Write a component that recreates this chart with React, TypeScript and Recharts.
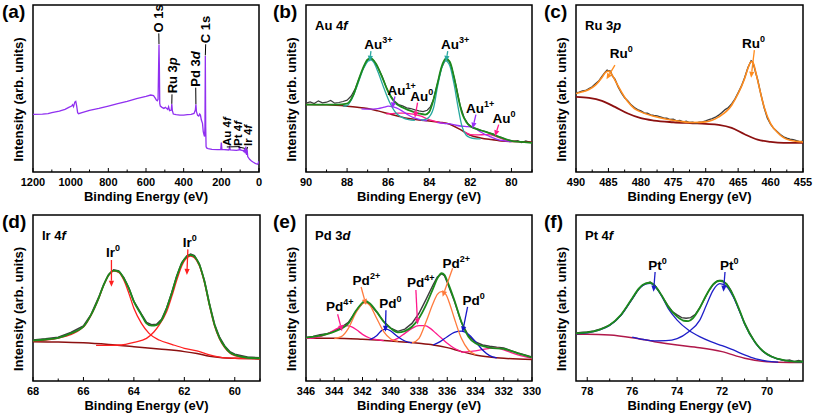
import React from "react";
import { LineChart, Line, XAxis, YAxis, ReferenceArea, ReferenceLine, ReferenceDot } from "recharts";

type Pt = [number, number];

// ---------- (a) survey ----------
const surveyScan: Pt[] = [
  [1200, 34.5], [1150, 34.7], [1120, 34.9], [1100, 35.5], [1060, 36.5], [1030, 37.5], [1010, 38.7],
  [995, 39.5], [990, 40.3], [985, 39.1], [978, 41.9], [973, 42.3], [968, 39.5], [963, 35.5], [958, 34.9],
  [940, 35.5], [900, 36.9], [850, 38.1], [800, 39.5], [750, 40.9], [700, 42.3], [650, 43.9], [600, 45.3],
  [575, 46.1], [560, 45.7], [550, 44.1], [545, 43.1], [540, 42.7], [536, 43.5], [533, 63.1], [531, 76.4],
  [529, 63], [527, 41.1], [524, 39.5], [515, 38.7], [505, 38.1], [497, 38.7], [485, 37.5], [480, 39.1],
  [475, 36.7], [466, 37.1], [463, 40.7], [460, 36.7], [455, 34.7], [440, 34.3], [420, 34.1], [400, 34.1],
  [380, 34.3], [360, 34.5], [345, 35.1], [338, 37.1], [335, 40.5], [332, 36.1], [326, 33.9], [320, 33.5],
  [315, 34.7], [311, 34.1], [306, 31.1], [300, 29.1], [296, 24.2], [292, 22.2], [289, 21.2], [287, 27.1],
  [285, 69.5], [283, 27.1], [281, 15.2], [278, 14.4], [270, 14], [250, 13.6], [220, 13.4], [203, 13.6],
  [200, 17.6], [197, 13.6], [160, 13.2], [156, 14.8], [152, 13.2], [120, 13], [106, 13.2], [103, 15.2],
  [100, 13.2], [85, 12.8], [80, 12.2], [76, 14.2], [72, 11.2], [70, 15.2], [66, 10.2], [63, 13.6],
  [60, 9.2], [50, 7.6], [40, 6.6], [30, 5.8], [20, 5.2], [12, 4.8], [8, 4.6], [4, 5.2], [2, 6.4], [0, 5.6],
];
const surveyTicks = [1200, 1100, 1000, 900, 800, 700, 600, 500, 400, 300, 200, 100, 0];
const surveyMajor = [1200, 1000, 800, 600, 400, 200, 0];
// text start (tx, ty) and the peak its leader points to (px, py)
const surveyPeaks = [
  { main: "O 1s", ital: "", tx: 532, ty: 83, px: 531, py: 76.6 },
  { main: "C 1s", ital: "", tx: 283, ty: 76.5, px: 285, py: 69.8 },
  { main: "Ru 3", ital: "p", tx: 462, ty: 46.5, px: 463, py: 40.8 },
  { main: "Pd 3", ital: "d", tx: 336, ty: 50.5, px: 335, py: 40.6 },
  { main: "Au 4", ital: "f", tx: 171, ty: 15, px: 103, py: 15.2 },
  { main: "Pt 4", ital: "f", tx: 111, ty: 15, px: 76, py: 14.2 },
  { main: "Ir 4", ital: "f", tx: 61, ty: 15, px: 64, py: 13.6 },
];

// ---------- (b) Au 4f ----------
const auRaw: Pt[] = [
  [90, 41.2], [89.8, 42], [89.6, 41], [89.4, 42.6], [89.2, 41.4], [89, 41.8], [88.8, 42.8], [88.6, 41.2],
  [88.4, 41.6], [88.2, 42.2], [88, 43], [87.8, 45.5], [87.6, 50], [87.4, 56.5], [87.2, 62.5], [87, 67],
  [86.85, 68], [86.7, 66.6], [86.5, 62.5], [86.3, 57.5], [86.1, 51], [85.9, 46], [85.7, 42.5], [85.5, 40.4],
  [85.3, 39.6], [85.1, 38.4], [84.9, 38], [84.7, 37.2], [84.5, 36.6], [84.3, 36.2], [84.1, 37], [83.95, 39],
  [83.8, 43.5], [83.6, 53], [83.4, 62.5], [83.2, 67.6], [83.05, 66.8], [82.9, 62], [82.7, 52], [82.5, 40],
  [82.3, 32.5], [82.1, 28.6], [81.9, 26.8], [81.7, 26], [81.5, 25], [81.3, 24.4], [81.1, 23.4], [80.9, 22.8],
  [80.7, 21.4], [80.5, 20.8], [80.3, 19.6], [80.1, 19], [79.9, 18.4], [79.7, 18.8], [79.5, 17.6], [79.3, 18.6],
  [79.1, 17.8], [79, 17.6],
];
const auFit: Pt[] = [
  [90, 40.4], [89, 40.4], [88.5, 40.4], [88, 41], [87.7, 46], [87.5, 53], [87.2, 63], [87, 67.4], [86.85, 68.2],
  [86.6, 65], [86.3, 57], [86, 48], [85.7, 42], [85.3, 38.6], [85, 37], [84.5, 35], [84.2, 34.4], [84, 36],
  [83.8, 43], [83.6, 53], [83.4, 63], [83.2, 67.8], [83, 66], [82.8, 57], [82.6, 45], [82.4, 35], [82.2, 30],
  [82, 27.4], [81.5, 25], [81, 23], [80.5, 20.6], [80, 18.6], [79.5, 18], [79, 17.4],
];
const auBg: Pt[] = [
  [90, 40.4], [89, 40.2], [88, 39.4], [87.5, 38.8], [87, 38], [86.5, 36.6], [86, 35], [85.5, 33.4], [85, 32],
  [84.5, 31.2], [84, 30.6], [83.5, 29.8], [83, 28.6], [82.5, 25.5], [82, 22], [81.5, 20.4], [81, 19.4],
  [80.5, 18.6], [80, 18.2], [79, 18],
];
const au3a: Pt[] = [
  [88.2, 39.4], [88, 39.8], [87.8, 43], [87.5, 52], [87.2, 62], [87, 66.2], [86.85, 67.2], [86.7, 65.6],
  [86.5, 60], [86.2, 50], [85.9, 41], [85.6, 35], [85.3, 32.6], [85, 31.4], [84.7, 31],
];
const au3b: Pt[] = [
  [84.4, 31], [84.1, 32], [83.8, 38], [83.6, 51], [83.4, 62], [83.2, 66.6], [83, 63.6], [82.8, 53], [82.6, 39],
  [82.4, 27], [82.2, 22], [82, 20.6], [81.8, 20], [81.5, 19.8],
];
const au1a: Pt[] = [
  [87.3, 37.8], [87, 37.6], [86.5, 38], [86.2, 38.8], [86, 39.4], [85.8, 39.2], [85.6, 38.4], [85.3, 36.4],
  [85, 34], [84.7, 32.2], [84.4, 31.2], [84.1, 30.6],
];
const au1b: Pt[] = [
  [83.6, 29.6], [83.2, 29], [83, 28.8], [82.7, 28], [82.4, 27.4], [82.2, 27.2], [82, 27], [81.8, 26.2],
  [81.5, 24], [81.2, 22], [81, 21], [80.7, 19.6], [80.4, 18.8], [80, 18.2],
];
const au0a: Pt[] = [
  [86.1, 34.8], [85.8, 35], [85.5, 35.2], [85.2, 35.2], [84.9, 34.8], [84.7, 34.4], [84.4, 33.4], [84.1, 31.8],
  [83.8, 30.6], [83.5, 29.6], [83.2, 29],
];
const au0b: Pt[] = [
  [82.3, 24], [82, 22.4], [81.6, 22.2], [81.3, 22.4], [81, 22.2], [80.7, 21], [80.4, 19.6], [80, 18.6], [79.6, 18.2],
];
const auTicks = [90, 89, 88, 87, 86, 85, 84, 83, 82, 81, 80, 79];
const auMajor = [90, 88, 86, 84, 82, 80];
const auMarks = [
  { ion: "Au", charge: "3+", kind: "au3", tx: 87.16, ty: 73.4, x1: 86.84, y1: 72.4, x2: 86.9, y2: 66 },
  { ion: "Au", charge: "3+", kind: "au3", tx: 83.43, ty: 73.4, x1: 83.1, y1: 72.4, x2: 83.19, y2: 66 },
  { ion: "Au", charge: "1+", kind: "au1", tx: 86.03, ty: 46.4, x1: 85.67, y1: 45.2, x2: 85.81, y2: 38 },
  { ion: "Au", charge: "0", kind: "au0", tx: 84.92, ty: 42.6, x1: 84.57, y1: 41.6, x2: 84.7, y2: 32.5 },
  { ion: "Au", charge: "1+", kind: "au1", tx: 82.21, ty: 35.4, x1: 81.73, y1: 34.4, x2: 81.89, y2: 26 },
  { ion: "Au", charge: "0", kind: "au0", tx: 80.92, ty: 29.4, x1: 80.62, y1: 28.4, x2: 80.8, y2: 21.4 },
];

// ---------- (c) Ru 3p ----------
const ruRaw: Pt[] = [
  [490, 47.4], [489.5, 47.8], [489, 48.6], [488.5, 48.8], [488, 50], [487.5, 51], [487, 52.8], [486.5, 54.4],
  [486, 57.2], [485.5, 59.8], [485.2, 61], [485, 60.6], [484.7, 60.4], [484.4, 57.6], [484, 55.6], [483.5, 51],
  [483, 47.4], [482.5, 44.4], [482, 42.6], [481.5, 40.2], [481, 38.6], [480.5, 37.4], [480, 36.6], [479.5, 35.4],
  [479, 35.2], [478.5, 34.2], [478, 33.8], [477.5, 33.6], [477, 33], [476.5, 32.4], [476, 32.2], [475.5, 31.4],
  [475, 31.6], [474.5, 30.6], [474, 30.8], [473.5, 30], [473, 30.4], [472.5, 29.6], [472, 29.8], [471.5, 29.2],
  [471, 29.8], [470.5, 30], [470, 30.6], [469.5, 31.4], [469, 32], [468.5, 32.8], [468, 34], [467.5, 35.6],
  [467, 37.4], [466.5, 38.6], [466, 40.8], [465.5, 43.6], [465, 47.4], [464.5, 51.4], [464, 56.4], [463.5, 62.4],
  [463.2, 65], [463, 66.6], [462.8, 66], [462.6, 64], [462.3, 59.6], [462, 55.4], [461.5, 46.6], [461, 38.6],
  [460.5, 32.4], [460, 28.6], [459.5, 26], [459, 24.2], [458.5, 22.4], [458, 21], [457.5, 20.2], [457, 19.6],
  [456.5, 19.4], [456, 18.8], [455.5, 18.2], [455, 18.4],
];
const ruFit: Pt[] = [
  [490, 47], [489, 48], [488, 49.4], [487, 52], [486, 56.6], [485.5, 59.4], [485, 60.4], [484.5, 58.6], [484, 55],
  [483, 48], [482, 42], [481, 38], [480, 36], [478, 33.4], [476, 31.6], [474, 30.4], [472, 29.6], [470, 30],
  [468, 33], [466, 40], [465, 47], [464, 56], [463.5, 62], [463, 66], [462.7, 65.4], [462.3, 60], [462, 55],
  [461, 39], [460, 29], [459, 24], [458, 20.6], [457, 19], [455, 18],
];
const ruBg: Pt[] = [
  [490, 45], [488, 44.4], [486, 42.6], [484, 39], [482, 35], [480, 32.2], [478, 30.8], [475, 29.8], [472, 29.2],
  [470, 28.8], [468, 28.2], [466, 26.4], [464, 22.6], [462, 19.4], [460, 18], [458, 17.4], [455, 17.4],
];
const ruTicks = [490, 487.5, 485, 482.5, 480, 477.5, 475, 472.5, 470, 467.5, 465, 462.5, 460, 457.5, 455];
const ruMajor = [490, 485, 480, 475, 470, 465, 460, 455];
const ruMarks = [
  { ion: "Ru", charge: "0", kind: "ru", tx: 484.8, ty: 68, x1: 484.0, y1: 64, x2: 485.3, y2: 55.5 },
  { ion: "Ru", charge: "0", kind: "ru", tx: 464.4, ty: 74, x1: 462.5, y1: 73, x2: 463, y2: 56.5 },
];

// ---------- (d) Ir 4f ----------
const irRaw: Pt[] = [
  [68, 24.6], [67.5, 25.4], [67, 26.4], [66.5, 29.2], [66, 33.2], [65.7, 40], [65.4, 50.2], [65.2, 58], [65, 64.2],
  [64.8, 66.9], [64.6, 66.3], [64.4, 62.2], [64.2, 56], [64, 48], [63.7, 40.2], [63.5, 35.3], [63.3, 33.9],
  [63.1, 34.1], [62.9, 37.1], [62.7, 44], [62.5, 53.2], [62.3, 63.2], [62.1, 71.3], [61.9, 75.4], [61.75, 76.4],
  [61.6, 75.5], [61.4, 70.3], [61.2, 60.2], [61, 46.2], [60.8, 34], [60.6, 26.2], [60.4, 21.1], [60.2, 17.7],
  [60, 16.1], [59.5, 14.4], [59, 14],
];
const irFit: Pt[] = [
  [68, 24.3], [67.5, 25], [67, 26], [66.5, 28.7], [66, 32.7], [65.7, 39.8], [65.4, 49.8], [65.2, 57.8], [65, 63.9],
  [64.8, 66.5], [64.6, 65.9], [64.4, 61.8], [64.2, 55.8], [64, 47.8], [63.7, 39.8], [63.5, 34.7], [63.3, 33.3],
  [63.1, 33.7], [62.9, 36.7], [62.7, 43.8], [62.5, 52.8], [62.3, 62.9], [62.1, 70.9], [61.9, 74.9], [61.75, 75.9],
  [61.6, 74.9], [61.4, 69.9], [61.2, 59.8], [61, 45.8], [60.8, 33.7], [60.6, 25.7], [60.4, 20.7], [60.2, 17.3],
  [60, 15.7], [59.5, 14], [59, 13.7],
];
const irBg: Pt[] = [
  [68, 23.7], [67, 23.5], [66, 23], [65, 22], [64, 20.7], [63, 19.3], [62, 17.7], [61.5, 16.5], [61, 14.9],
  [60.5, 14], [60, 13.7], [59, 13.3],
];
const ir1: Pt[] = [
  [68, 24], [67, 25.8], [66, 32.5], [65.7, 39.5], [65.4, 49.5], [65.2, 57.5], [65, 63.6], [64.8, 66.2],
  [64.6, 65.4], [64.4, 60.8], [64.2, 52.8], [64, 43.8], [63.7, 34.7], [63.4, 28.7], [63, 24.7], [62.5, 22.1],
  [62, 19.7], [61.5, 18.1], [61, 15.7], [60.5, 14.1], [60, 13.7], [59, 13.4],
];
const ir2: Pt[] = [
  [65.5, 21.5], [65, 21.5], [64.5, 21.7], [64, 23.3], [63.5, 25.7], [63.2, 29.7], [63, 33.7], [62.7, 41.8],
  [62.5, 50.8], [62.3, 60.8], [62.1, 69.5], [61.9, 74.3], [61.75, 75.3], [61.6, 74.3], [61.4, 69.3], [61.2, 59.2],
  [61, 45.2], [60.8, 33.1], [60.6, 25.1], [60.4, 20.1], [60.2, 16.9], [60, 15.3], [59.5, 13.8], [59, 13.5],
];
const irTicks = [68, 67, 66, 65, 64, 63, 62, 61, 60, 59];
const irMajor = [68, 66, 64, 62, 60];
const irMarks = [
  { ion: "Ir", charge: "0", kind: "ir", tx: 65.11, ty: 74.9, x1: 64.89, y1: 72.9, x2: 64.89, y2: 56.8 },
  { ion: "Ir", charge: "0", kind: "ir", tx: 62.06, ty: 80.9, x1: 61.86, y1: 79.3, x2: 61.9, y2: 63.9 },
];

// ---------- (e) Pd 3d ----------
const pdRaw: Pt[] = [
  [346, 26.3], [345.5, 26.9], [345, 27.9], [344.5, 28.5], [344, 30.1], [343.5, 32.3], [343, 35.3], [342.5, 41.6],
  [342, 46.8], [341.8, 47.8], [341.5, 46.4], [341, 41.6], [340.5, 35.9], [340, 31.9], [339.5, 29.9], [339, 31.3],
  [338.5, 34.7], [338, 40.8], [337.5, 49.2], [337, 58], [336.7, 62.6], [336.4, 64.6], [336.2, 63.4], [336, 59.4],
  [335.5, 48.2], [335, 35.3], [334.5, 27.3], [334, 23.5], [333.5, 21.7], [333, 20.9], [332.5, 20.3], [332, 19.9],
  [331.5, 18.3], [331, 16.9], [330.5, 15.7], [330, 14.5],
];
const pdFit: Pt[] = [
  [346, 26.1], [345, 27.3], [344, 29.7], [343, 34.7], [342.5, 41.8], [342, 47.2], [341.8, 48.2], [341.5, 46.8],
  [341, 41.8], [340.5, 35.7], [340, 31.7], [339.5, 29.3], [339, 30.1], [338.5, 32.7], [338, 37.8], [337.5, 45.8],
  [337, 55.8], [336.7, 61.8], [336.4, 64.9], [336.2, 63.9], [336, 60.2], [335.5, 48.8], [335, 35.7], [334.5, 26.7],
  [334, 22.7], [333, 20.1], [332, 19.3], [331, 16.7], [330, 14.1],
];
const pdBg: Pt[] = [
  [346, 25.7], [344, 25.7], [342, 25.1], [340, 24.1], [338, 22.7], [337, 21.7], [336, 20.1], [335, 17.7],
  [334, 15.7], [333, 14.5], [332, 13.7], [330, 13],
];
const pd4a: Pt[] = [
  [346, 25.7], [345.5, 25.9], [345, 26.7], [344.5, 28.3], [344, 30.7], [343.5, 32.7], [343.2, 33.3], [342.8, 32.7],
  [342.4, 30.7], [342, 28.1], [341.5, 25.9], [341, 24.9], [340.5, 24.3],
];
const pd4b: Pt[] = [
  [340, 24.1], [339.5, 25.7], [339, 28.7], [338.5, 31.7], [338, 33.3], [337.6, 33.3], [337.2, 31.7], [336.8, 28.7],
  [336.4, 25.7], [336, 22.7], [335.5, 19.7], [335, 17.7],
];
const pd4c: Pt[] = [
  [335, 17.3], [334, 18.1], [333, 19.7], [332.5, 19.9], [332, 18.7], [331, 15.7], [330, 13.7],
];
const pd2a: Pt[] = [
  [344, 25.5], [343.5, 26.7], [343, 31.7], [342.5, 40.6], [342, 46.6], [341.8, 47.2], [341.5, 45.8], [341, 37.8],
  [340.5, 29.7], [340, 25.3], [339.5, 23.9],
];
const pd2b: Pt[] = [
  [338.5, 22.9], [338, 25.7], [337.5, 35.7], [337, 46.8], [336.7, 52.2], [336.4, 53.8], [336.1, 52.2], [335.8, 45.8],
  [335.5, 37.8], [335, 25.7], [334.5, 18.7], [334, 15.9],
];
const pd0a: Pt[] = [
  [341.5, 24.9], [341, 27.3], [340.6, 30.7], [340.3, 31.3], [340, 30.1], [339.5, 26.7], [339, 24.1], [338.5, 22.9],
];
const pd0b: Pt[] = [
  [337, 21.7], [336.5, 23.7], [336, 26.7], [335.5, 29.3], [335, 30.1], [334.5, 28.1], [334, 23.7], [333.5, 18.7],
  [333, 15.3], [332.5, 13.9],
];
const pdTicks = [346, 345, 344, 343, 342, 341, 340, 339, 338, 337, 336, 335, 334, 333, 332, 331, 330];
const pdMajor = [346, 344, 342, 340, 338, 336, 334, 332, 330];
const pdMarks = [
  { ion: "Pd", charge: "4+", kind: "pd4", tx: 344.58, ty: 42.2, x1: 343.76, y1: 40.2, x2: 343.45, y2: 30 },
  { ion: "Pd", charge: "2+", kind: "pd2", tx: 342.7, ty: 57.8, x1: 342.1, y1: 56.6, x2: 341.75, y2: 45.8 },
  { ion: "Pd", charge: "0", kind: "pd0", tx: 340.81, ty: 43.8, x1: 340.34, y1: 42.6, x2: 340.38, y2: 29.6 },
  { ion: "Pd", charge: "4+", kind: "pd4", tx: 338.85, ty: 56.8, x1: 338.22, y1: 54.8, x2: 338.1, y2: 34.1 },
  { ion: "Pd", charge: "2+", kind: "pd2", tx: 336.33, ty: 68.3, x1: 335.62, y1: 67.9, x2: 336.33, y2: 50.8 },
  { ion: "Pd", charge: "0", kind: "pd0", tx: 334.92, ty: 45.8, x1: 334.56, y1: 44.6, x2: 334.92, y2: 29.3 },
];

// ---------- (f) Pt 4f ----------
const ptRaw: Pt[] = [
  [78.5, 29], [78.2, 29.4], [78, 29.6], [77.7, 30.2], [77.4, 31.4], [77.1, 33], [76.8, 35.6], [76.5, 39.6],
  [76.2, 45.4], [76, 49.4], [75.8, 53.6], [75.6, 57], [75.4, 58.6], [75.2, 59.6], [75, 57.8], [74.8, 54],
  [74.6, 49.4], [74.4, 45.2], [74.2, 41.6], [74, 39.8], [73.8, 38.2], [73.6, 37.8], [73.4, 38.2], [73.2, 40],
  [73, 44], [72.8, 49], [72.6, 54.2], [72.4, 58], [72.2, 60.4], [72, 60.6], [71.8, 58.6], [71.6, 54.4],
  [71.4, 48], [71.2, 41.4], [71, 35], [70.8, 29.6], [70.6, 24.8], [70.4, 21], [70.2, 18], [70, 16.4],
  [69.8, 14.8], [69.6, 13.6], [69.4, 13], [69.2, 12.2], [69, 12.6], [68.8, 11.6], [68.6, 12.4], [68.4, 11.8],
];
const ptFit: Pt[] = [
  [78.5, 28.7], [78, 29.3], [77.5, 30.7], [77, 33.7], [76.5, 39.8], [76, 49.8], [75.7, 55.8], [75.4, 58.8],
  [75.2, 59.2], [75, 57.4], [74.7, 51.8], [74.4, 44.8], [74, 38.8], [73.7, 36.3], [73.5, 36.1], [73.3, 37.8],
  [73, 43.8], [72.7, 51.8], [72.4, 58.2], [72.1, 60.4], [71.8, 58.2], [71.5, 51.4], [71.2, 41.8], [71, 34.7],
  [70.5, 22.7], [70, 16.1], [69.5, 13.3], [69, 12], [68.4, 11.6],
];
const ptBg: Pt[] = [
  [78.5, 28.1], [78, 28.1], [77, 27.7], [76, 26.1], [75, 23.7], [74, 21.7], [73, 20.1], [72, 17.7], [71, 13.7],
  [70, 11.6], [69, 11.2], [68.4, 11.2],
];
const pt1: Pt[] = [
  [78.5, 28.4], [78, 29], [77, 33.4], [76.5, 39.5], [76, 49.5], [75.7, 55.5], [75.4, 58.5], [75.2, 58.9],
  [75, 57], [74.7, 51.4], [74.4, 43.8], [74, 36.7], [73.5, 30.7], [73, 26.7], [72.5, 23.7], [72, 21.3],
  [71.5, 18.7], [71, 15.7], [70.5, 13.3], [70, 12], [69.5, 11.4],
];
const pt2: Pt[] = [
  [76, 26.5], [75.5, 25], [75, 24.2], [74.5, 24.3], [74, 25.5], [73.5, 29.5], [73, 36.5], [72.7, 45.6],
  [72.4, 54.6], [72.1, 58.6], [71.8, 57], [71.5, 50.6], [71.2, 41.2], [71, 34.3], [70.5, 22.5], [70, 16],
  [69.5, 13.2], [69, 12], [68.4, 11.4],
];
const ptTicks = [78, 77, 76, 75, 74, 73, 72, 71, 70, 69];
const ptMajor = [78, 76, 74, 72, 70];
const ptMarks = [
  { ion: "Pt", charge: "0", kind: "pt", tx: 75.28, ty: 66.9, x1: 74.98, y1: 65.7, x2: 75.05, y2: 53.8 },
  { ion: "Pt", charge: "0", kind: "pt", tx: 72.09, ty: 66.9, x1: 71.87, y1: 65.7, x2: 71.94, y2: 53.8 },
];

// ---------- styles ----------
const FONT = '"Liberation Sans", Arial, sans-serif';
const C = {
  survey: "#9030f0",
  raw: "#3c3c3c",
  fit: "#1c8a1c",
  bg: "#8c1010",
  bgF: "#b0184a",
  au3: "#28a8a0",
  au1: "#9a30f8",
  au0: "#ff1a8c",
  ru: "#ff8c1e",
  ir: "#ff2020",
  pd4: "#ff1a8c",
  pd2: "#ff7a3c",
  pd0: "#1414c8",
  pt: "#1e1ec8",
};

type Series = { data: Pt[]; color: string; width: number; linear?: boolean };
type Mark = { ion: string; charge: string; kind: string; tx: number; ty: number; x1: number; y1: number; x2: number; y2: number };
type PanelProps = {
  left: number;
  top: number;
  plot: [number, number, number, number];
  letter: string;
  title?: [string, string];
  domain: [number, number];
  ticks: number[];
  majors: number[];
  series: Series[];
  marks?: Mark[];
  survey?: boolean;
};

const pts = (a: Pt[]) => a.map(([x, y]) => ({ x, y }));

const arrowShape = (color: string) => (p: any) => {
  const { x1, y1, x2, y2 } = p;
  const dx = x2 - x1;
  const dy = y2 - y1;
  const len = Math.hypot(dx, dy) || 1;
  const ux = dx / len;
  const uy = dy / len;
  const h = 6;
  const w = 2.6;
  const bx = x2 - ux * h;
  const by = y2 - uy * h;
  return (
    <g>
      <line x1={x1} y1={y1} x2={bx} y2={by} stroke={color} strokeWidth={1.3} />
      <path d={`M${x2},${y2} L${bx - uy * w},${by + ux * w} L${bx + uy * w},${by - ux * w} Z`} fill={color} />
    </g>
  );
};

function Panel({ left, top, plot, letter, title, domain, ticks, majors, series, marks = [], survey }: PanelProps) {
  const [pl, pt, pr, pb] = plot;
  const W = 271;
  const H = 208;

  const renderTick = (p: any) => {
    const v = p.payload.value;
    const major = majors.includes(v);
    return (
      <g>
        <line x1={p.x} y1={p.y} x2={p.x} y2={p.y - (major ? 4 : 2.5)} stroke="#000" strokeWidth={1} />
        {major && (
          <text x={p.x} y={p.y + 14} textAnchor="middle" fontSize={11} fontWeight="bold" fontFamily={FONT} fill="#000">
            {v}
          </text>
        )}
      </g>
    );
  };

  return (
    <div style={{ position: "absolute", left, top, width: W, height: H }}>
      <LineChart width={W} height={H} margin={{ top: pt, right: W - pr, left: pl, bottom: H - pb - 30 }}>
        <XAxis
          type="number"
          dataKey="x"
          domain={domain}
          reversed
          allowDataOverflow
          ticks={ticks}
          interval={0}
          tickLine={false}
          axisLine={false}
          tickSize={0}
          tickMargin={0}
          height={30}
          tick={renderTick}
        />
        <YAxis type="number" domain={[0, 100]} hide allowDataOverflow />
        <ReferenceArea x1={domain[0]} x2={domain[1]} y1={0} y2={100} fill="none" stroke="#000" strokeWidth={1.5} ifOverflow="visible" />
        {series.map((s, i) => (
          <Line
            key={i}
            data={pts(s.data)}
            dataKey="y"
            type={s.linear ? "linear" : "monotone"}
            stroke={s.color}
            strokeWidth={s.width}
            dot={false}
            isAnimationActive={false}
          />
        ))}
        {survey &&
          surveyPeaks.map((s, i) => (
            <ReferenceLine
              key={"sl" + i}
              segment={[{ x: s.tx, y: s.ty }, { x: s.px, y: s.py }]}
              stroke="#000"
              strokeWidth={1}
              ifOverflow="visible"
            />
          ))}
        {survey &&
          surveyPeaks.map((s, i) => (
            <ReferenceDot
              key={"sd" + i}
              x={s.tx}
              y={s.ty}
              r={1}
              ifOverflow="visible"
              shape={(p: any) => (
                <text
                  x={p.cx}
                  y={p.cy}
                  dx={1}
                  dy="0.36em"
                  transform={`rotate(-90 ${p.cx} ${p.cy})`}
                  fontSize={s.ty < 30 ? 11.5 : 13}
                  fontWeight="bold"
                  fontFamily={FONT}
                  fill="#000"
                >
                  {s.main}
                  {s.ital && <tspan fontStyle="italic">{s.ital}</tspan>}
                </text>
              )}
            />
          ))}
        {marks.map((m, i) => (
          <ReferenceLine
            key={"ml" + i}
            segment={[{ x: m.x1, y: m.y1 }, { x: m.x2, y: m.y2 }]}
            ifOverflow="visible"
            shape={arrowShape((C as any)[m.kind])}
          />
        ))}
        {marks.map((m, i) => (
          <ReferenceDot
            key={"md" + i}
            x={m.tx}
            y={m.ty}
            r={1}
            ifOverflow="visible"
            shape={(p: any) => (
              <text x={p.cx} y={p.cy} fontSize={13.5} fontWeight="bold" fontFamily={FONT} fill="#000">
                {m.ion}
                <tspan dy={-6} fontSize={9}>
                  {m.charge}
                </tspan>
              </text>
            )}
          />
        ))}
      </LineChart>
      <svg width={W} height={H} style={{ position: "absolute", left: 0, top: 0, pointerEvents: "none" }}>
        <text x={2} y={pt + 12.5} fontSize={19} fontWeight="bold" fontFamily={FONT} fill="#000">
          {letter}
        </text>
        {title && (
          <text x={pl + 9} y={pt + 24.5} fontSize={13} fontWeight="bold" fontFamily={FONT} fill="#000">
            {title[0]}
            <tspan fontStyle="italic">{title[1]}</tspan>
          </text>
        )}
        <text
          transform={`translate(${pl - 10.5},${(pt + pb) / 2 + 11}) rotate(-90)`}
          textAnchor="middle"
          fontSize={13}
          fontWeight="bold"
          fontFamily={FONT}
          fill="#000"
        >
          Intensity (arb. units)
        </text>
        <text x={(pl + pr) / 2} y={pb + 28.5} textAnchor="middle" fontSize={13} fontWeight="bold" fontFamily={FONT} fill="#000">
          Binding Energy (eV)
        </text>
      </svg>
    </div>
  );
}

export default function App() {
  return (
    <div style={{ position: "absolute", left: 0, top: 0, width: 813, height: 416, background: "#fff", overflow: "hidden" }}>
      <Panel
        left={0}
        top={0}
        plot={[33, 5, 259, 172]}
        letter="(a)"
        domain={[0, 1200]}
        ticks={surveyTicks}
        majors={surveyMajor}
        survey
        series={[{ data: surveyScan, color: C.survey, width: 1.3, linear: true }]}
      />
      <Panel
        left={271}
        top={0}
        plot={[35, 5, 261, 172]}
        letter="(b)"
        title={["Au 4", "f"]}
        domain={[79, 90]}
        ticks={auTicks}
        majors={auMajor}
        marks={auMarks}
        series={[
          { data: auRaw, color: C.raw, width: 1.2, linear: true },
          { data: auBg, color: C.bg, width: 1.5 },
          { data: au0a, color: C.au0, width: 1.3 },
          { data: au0b, color: C.au0, width: 1.3 },
          { data: au1a, color: C.au1, width: 1.3 },
          { data: au1b, color: C.au1, width: 1.3 },
          { data: au3a, color: C.au3, width: 1.3 },
          { data: au3b, color: C.au3, width: 1.3 },
          { data: auFit, color: C.fit, width: 1.8 },
        ]}
      />
      <Panel
        left={542}
        top={0}
        plot={[34, 5, 261, 172]}
        letter="(c)"
        title={["Ru 3", "p"]}
        domain={[455, 490]}
        ticks={ruTicks}
        majors={ruMajor}
        marks={ruMarks}
        series={[
          { data: ruBg, color: C.bg, width: 1.8 },
          { data: ruRaw, color: C.raw, width: 1.4, linear: true },
          { data: ruFit, color: C.ru, width: 1.6 },
        ]}
      />
      <Panel
        left={0}
        top={208}
        plot={[33, 7, 260, 173]}
        letter="(d)"
        title={["Ir 4", "f"]}
        domain={[59, 68]}
        ticks={irTicks}
        majors={irMajor}
        marks={irMarks}
        series={[
          { data: irRaw, color: C.raw, width: 1.6, linear: true },
          { data: irBg, color: C.bg, width: 1.5 },
          { data: ir1, color: C.ir, width: 1.3 },
          { data: ir2, color: C.ir, width: 1.3 },
          { data: irFit, color: C.fit, width: 1.8 },
        ]}
      />
      <Panel
        left={271}
        top={208}
        plot={[35, 7, 261, 173]}
        letter="(e)"
        title={["Pd 3", "d"]}
        domain={[330, 346]}
        ticks={pdTicks}
        majors={pdMajor}
        marks={pdMarks}
        series={[
          { data: pdRaw, color: C.raw, width: 1.4, linear: true },
          { data: pdBg, color: C.bg, width: 1.5 },
          { data: pd4a, color: C.pd4, width: 1.3 },
          { data: pd4b, color: C.pd4, width: 1.3 },
          { data: pd4c, color: C.pd4, width: 1.3 },
          { data: pd0a, color: C.pd0, width: 1.3 },
          { data: pd0b, color: C.pd0, width: 1.3 },
          { data: pd2a, color: C.pd2, width: 1.3 },
          { data: pd2b, color: C.pd2, width: 1.3 },
          { data: pdFit, color: C.fit, width: 1.8 },
        ]}
      />
      <Panel
        left={542}
        top={208}
        plot={[34, 7, 261, 173]}
        letter="(f)"
        title={["Pt 4", "f"]}
        domain={[68.4, 78.5]}
        ticks={ptTicks}
        majors={ptMajor}
        marks={ptMarks}
        series={[
          { data: ptRaw, color: C.raw, width: 1.4, linear: true },
          { data: ptBg, color: C.bgF, width: 1.5 },
          { data: pt1, color: C.pt, width: 1.3 },
          { data: pt2, color: C.pt, width: 1.3 },
          { data: ptFit, color: C.fit, width: 1.8 },
        ]}
      />
    </div>
  );
}
